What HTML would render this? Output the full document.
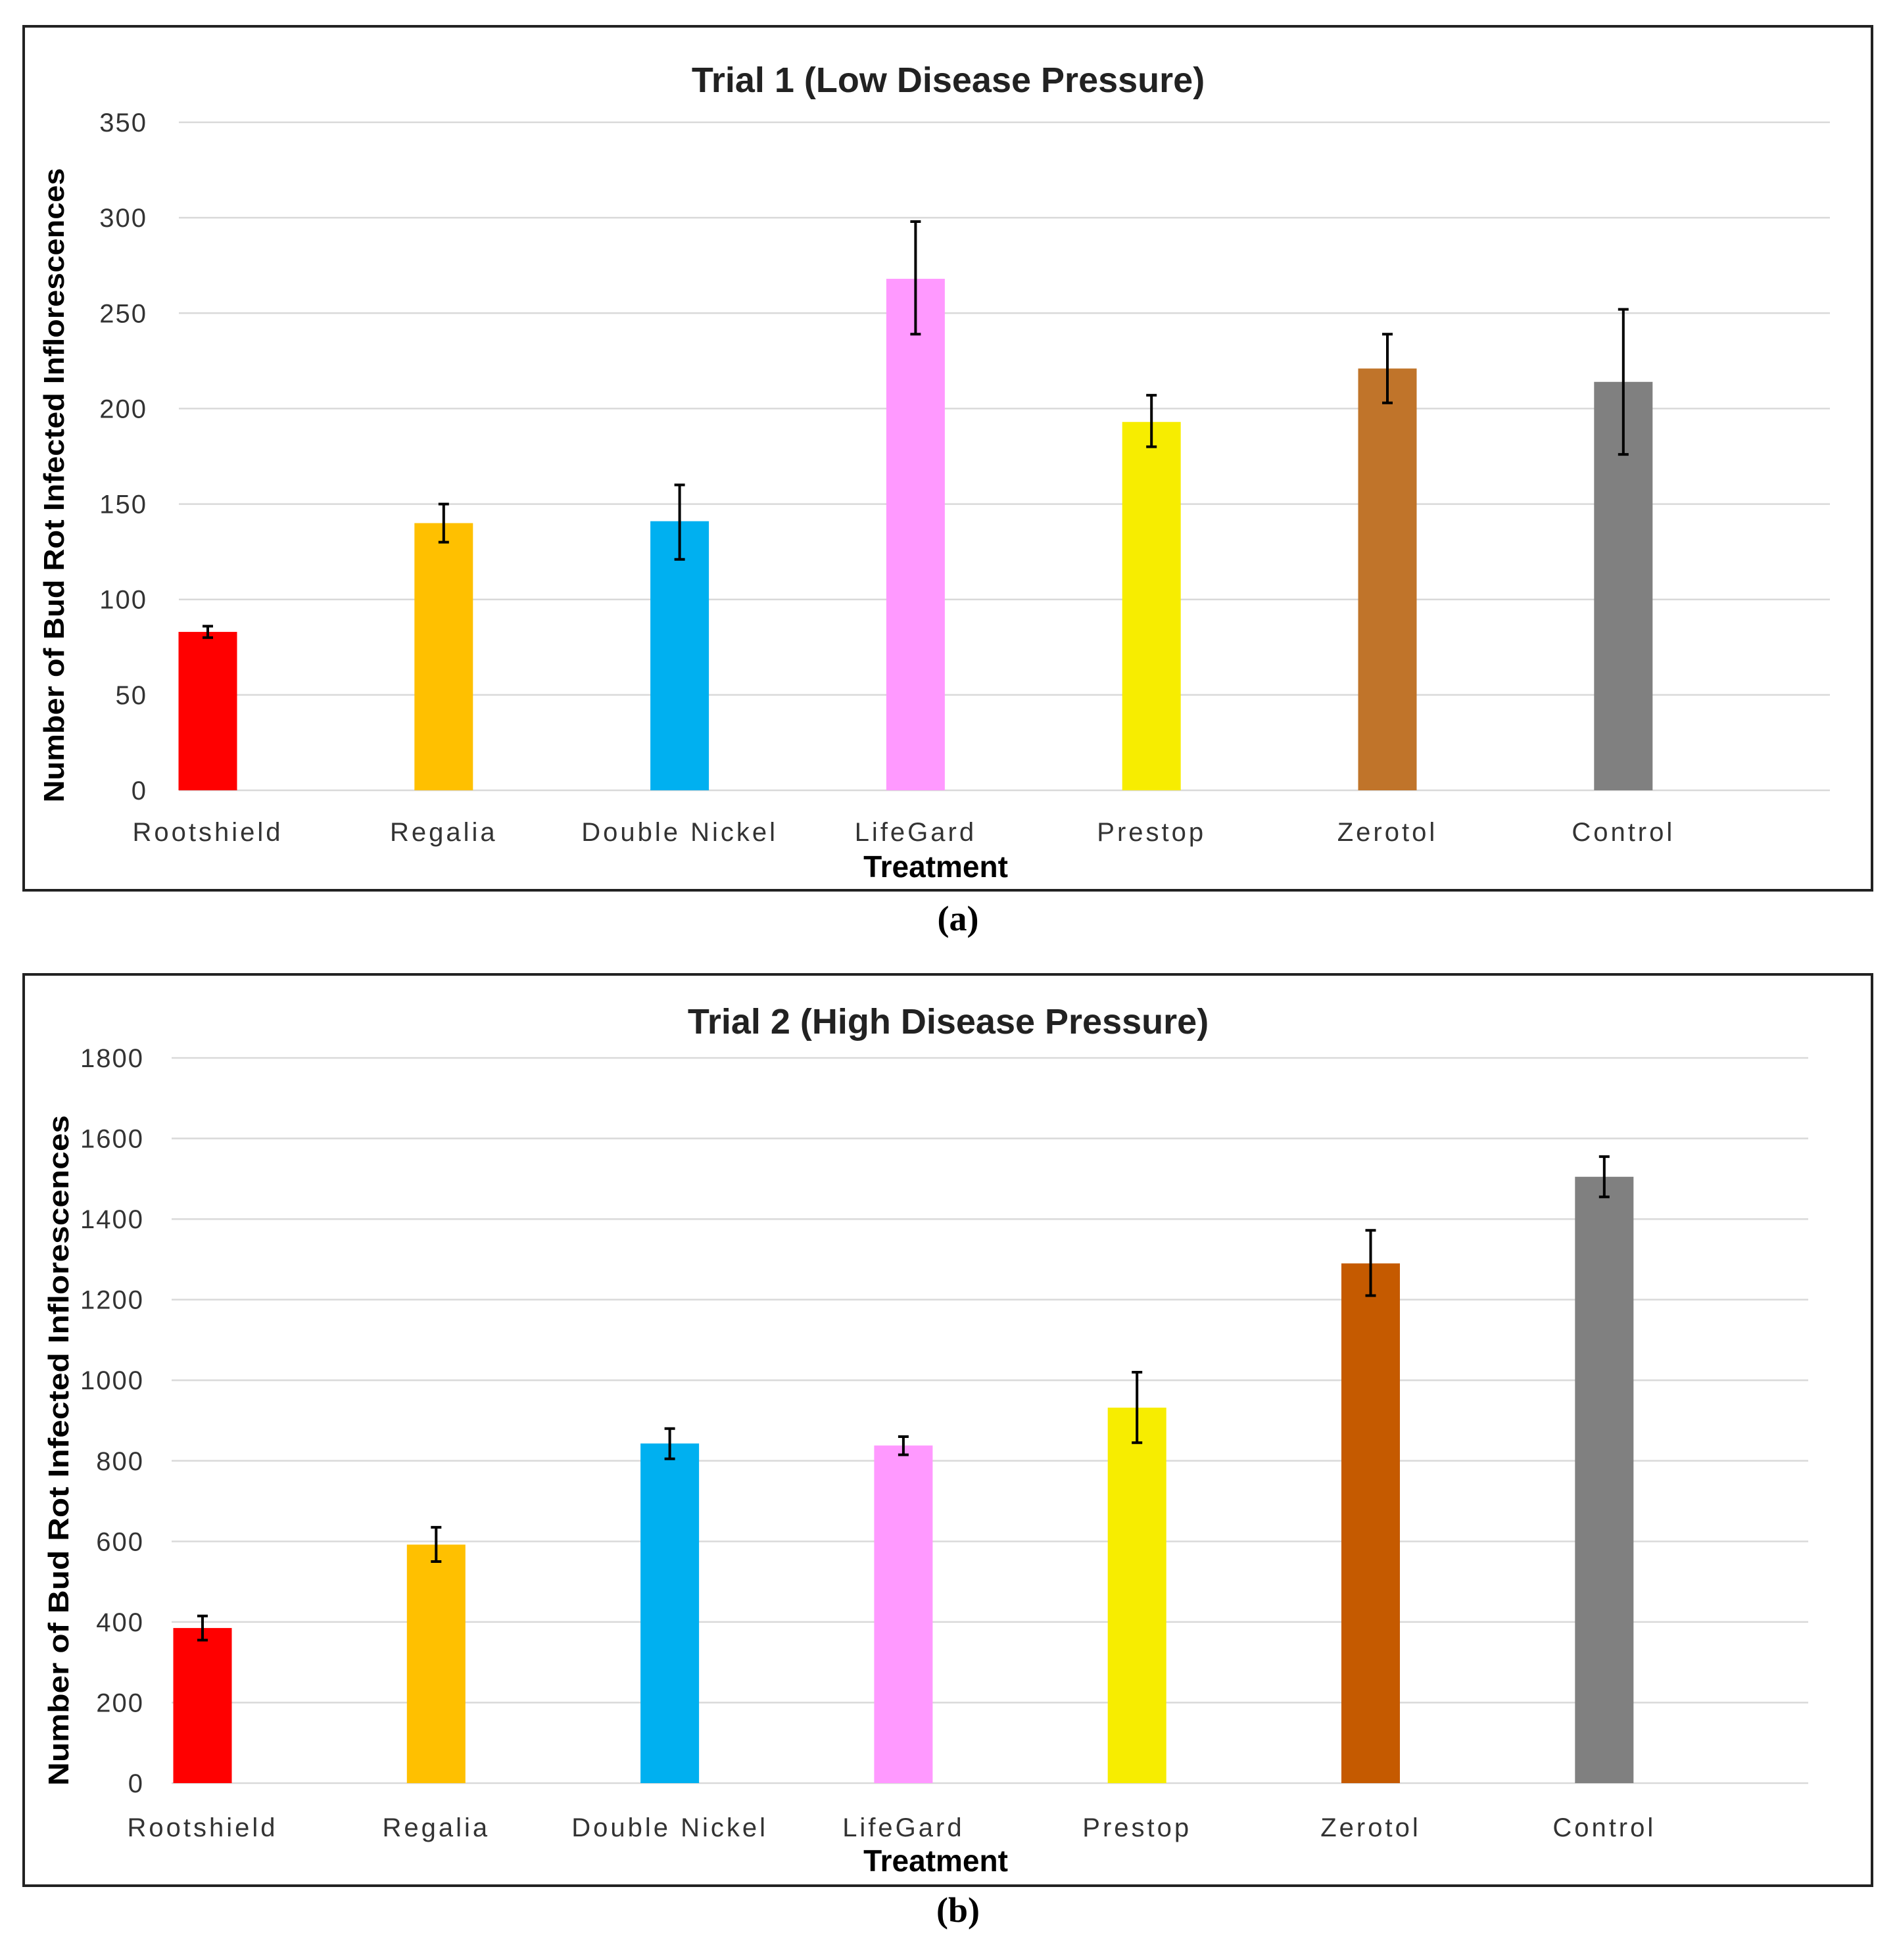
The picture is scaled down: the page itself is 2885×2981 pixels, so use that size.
<!DOCTYPE html>
<html><head><meta charset="utf-8"><style>
html,body{margin:0;padding:0;background:#fff;}
svg{display:block;font-family:"Liberation Sans",Arial,sans-serif;}
</style></head><body>
<svg id="fig" width="2885" height="2981" viewBox="0 0 2885 2981" xmlns="http://www.w3.org/2000/svg">
<rect x="0" y="0" width="2885" height="2981" fill="#fff"/>
</svg>
<script>
const categories = ["Rootshield","Regalia","Double Nickel","LifeGard","Prestop","Zerotol","Control"];
const valuesA = [83,140,141,268,193,221,214];
const errLowA = [80,130,121,239,180,203,176];
const errHighA = [86,150,160,298,207,239,252];
const ticksA = [0,50,100,150,200,250,300,350];
const valuesB = [385,592,843,838,932,1290,1505];
const errLowB = [355,550,805,815,845,1210,1455];
const errHighB = [415,635,880,860,1020,1372,1555];
const ticksB = [0,200,400,600,800,1000,1200,1400,1600,1800];
const colorsA = ["#ff0000","#ffc000","#00b0f0","#ff99ff","#f7ed00","#c0742a","#808080"];
const colorsB = ["#ff0000","#ffc000","#00b0f0","#ff99ff","#f7ed00","#c55a00","#808080"];

const NS="http://www.w3.org/2000/svg";
const svg=document.getElementById('fig');
function mk(tag,attrs,parent,text){const e=document.createElementNS(NS,tag);for(const k in attrs)e.setAttribute(k,attrs[k]);if(text!==undefined)e.textContent=text;(parent||svg).appendChild(e);return e;}

function drawChart(cfg){
  const g=mk('g',{});
  
  
  const box=mk('rect',{x:cfg.box[0],y:cfg.box[1],width:cfg.box[2]-cfg.box[0],height:cfg.box[3]-cfg.box[1],fill:'none',stroke:'#222','stroke-width':4},g);
  
  
  const yMax=cfg.ticks[cfg.ticks.length-1];
  const yS=v=>cfg.y0-(v/yMax)*(cfg.y0-cfg.yTop);
  const xS=i=>cfg.x0+cfg.step*i;
  cfg.ticks.forEach(t=>{
    const l=mk('line',{x1:cfg.plotL,x2:cfg.plotR,y1:yS(t),y2:yS(t),stroke:'#d9d9d9','stroke-width':2.5},g);
    
    
    const tx=mk('text',{x:cfg.tickR,y:yS(t)+14,'text-anchor':'end','font-size':40,'letter-spacing':2,fill:'#333'},g,String(t));
    
    
  });
  cfg.values.forEach((v,i)=>{
    const b=mk('rect',{x:xS(i)-cfg.bw/2,y:yS(v),width:cfg.bw,height:cfg.y0-yS(v),fill:cfg.colors[i]},g);
    
    
    const e=mk('path',{d:`M${xS(i)-8},${yS(cfg.hi[i])}H${xS(i)+8}M${xS(i)},${yS(cfg.hi[i])}V${yS(cfg.lo[i])}M${xS(i)-8},${yS(cfg.lo[i])}H${xS(i)+8}`,stroke:'#000','stroke-width':4,fill:'none'},g);
    
    
    const c=mk('text',{x:xS(i),y:cfg.catY+14,'text-anchor':'middle','font-size':40,'letter-spacing':4,fill:'#333'},g,categories[i]);
    
    
  });
  const t=mk('text',{x:cfg.titleX,y:cfg.titleY+18,'text-anchor':'middle','font-size':54,'font-weight':'bold',fill:'#222'},g,cfg.title);
  
  
  const xt=mk('text',{x:cfg.xtX,y:cfg.xtY+16,'text-anchor':'middle','font-size':46,'font-weight':'bold',fill:'#000'},g,'Treatment');
  
  
  const yt=mk('text',{x:0,y:0,'text-anchor':'middle','font-size':44,'font-weight':'bold',fill:'#000',textLength:cfg.ytLen,lengthAdjust:'spacingAndGlyphs',transform:`translate(${cfg.ytX+15},${cfg.ytY}) rotate(-90)`},g,'Number of Bud Rot Infected Inflorescences');
  
  
  const p=mk('text',{x:cfg.panelX,y:cfg.panelY+17,'text-anchor':'middle','font-size':54,'font-weight':'bold','font-family':'Liberation Serif, serif',fill:'#000'},g,cfg.panel);
  
  
}

drawChart({name:'chart-trial-1',box:[36,40,2847,1354],ticks:ticksA,values:valuesA,lo:errLowA,hi:errHighA,colors:colorsA,
  y0:1202,yTop:186,plotL:272,plotR:2783,x0:316,step:358.8,bw:89,tickR:224,catY:1265,
  title:'Trial 1 (Low Disease Pressure)',titleX:1442,titleY:122,xtX:1423,xtY:1318,ytX:82,ytY:738,ytLen:965,
  panel:'(a)',panelX:1457,panelY:1398});
drawChart({name:'chart-trial-2',box:[36,1482,2847,2868],ticks:ticksB,values:valuesB,lo:errLowB,hi:errHighB,colors:colorsB,
  y0:2712,yTop:1609,plotL:261,plotR:2750,x0:308,step:355.3,bw:89,tickR:219,catY:2779,
  title:'Trial 2 (High Disease Pressure)',titleX:1442,titleY:1554,xtX:1423,xtY:2830,ytX:89,ytY:2206,ytLen:1020,
  panel:'(b)',panelX:1457,panelY:2906});
</script>
</body></html>
